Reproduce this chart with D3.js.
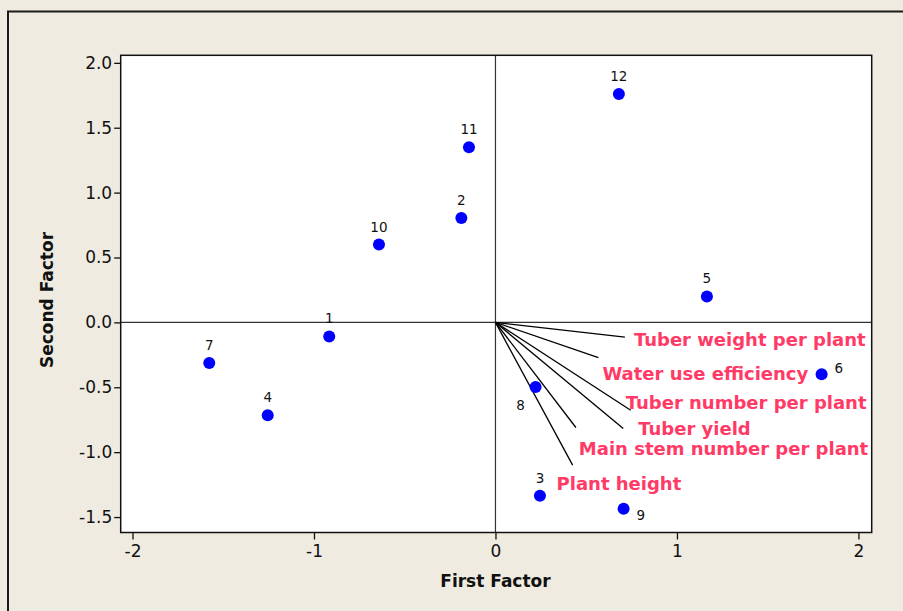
<!DOCTYPE html>
<html>
<head>
<meta charset="utf-8">
<script src="https://cdn.jsdelivr.net/npm/d3@7"></script>
<style>
  html, body { margin: 0; padding: 0; background: #EFEBE0; }
  svg { display: block; }
</style>
</head>
<body>
<svg id="chart" width="903" height="611"></svg>
<script>
// ---------- data ----------
const pointIds = ["1","2","3","4","5","6","7","8","9","10","11","12"];
const firstFactor  = [-0.916, -0.188, 0.245, -1.255, 1.165, 1.797, -1.577, 0.221, 0.706, -0.642, -0.146, 0.680];
const secondFactor = [-0.108,  0.805, -1.336, -0.715, 0.200, -0.400, -0.313, -0.498, -1.436, 0.600, 1.349, 1.760];

const variableNames = ["Tuber weight per plant", "Water use efficiency", "Tuber number per plant",
                       "Tuber yield", "Main stem number per plant", "Plant height"];
const loadingFirst  = [0.713, 0.567, 0.745, 0.704, 0.443, 0.425];
const loadingSecond = [-0.113, -0.272, -0.677, -0.818, -0.810, -1.100];

const xTickValues = [-2, -1, 0, 1, 2];
const xTickLabels = ["-2", "-1", "0", "1", "2"];
const yTickValues = [2.0, 1.5, 1.0, 0.5, 0.0, -0.5, -1.0, -1.5];
const yTickLabels = ["2.0", "1.5", "1.0", "0.5", "0.0", "-0.5", "-1.0", "-1.5"];

// ---------- layout (not data) ----------
const plot = { left: 120.7, right: 871.7, top: 55.3, bottom: 532.5 };
const xDomain = [-2.065, 2.073];
const yDomain = [-1.619, 2.058];
// label placement of point ids
const pointLabelPos = { "6": "right", "8": "belowleft", "9": "belowright" };
// offsets (px) of variable labels from the tip of each vector
const varLabelOffset = [[9, 9], [4, 22], [-5, -1], [15, 6], [3, 27], [-16, 25]];

const svg = d3.select("#chart");

// outer frame
svg.append("rect").attr("x", 8).attr("y", 11.5).attr("width", 1000).attr("height", 700)
  .attr("fill", "#EFEBE0").attr("stroke", "#1a1a1a").attr("stroke-width", 2);

const x = d3.scaleLinear().domain(xDomain).range([plot.left, plot.right]);
const y = d3.scaleLinear().domain(yDomain).range([plot.bottom, plot.top]);

// plot area
svg.append("rect")
  .attr("x", plot.left).attr("y", plot.top)
  .attr("width", plot.right - plot.left).attr("height", plot.bottom - plot.top)
  .attr("fill", "#ffffff");

// reference lines
svg.append("line").attr("x1", plot.left).attr("x2", plot.right)
  .attr("y1", y(0)).attr("y2", y(0)).attr("stroke", "#333").attr("stroke-width", 1.2);
svg.append("line").attr("x1", x(0)).attr("x2", x(0))
  .attr("y1", plot.top).attr("y2", plot.bottom).attr("stroke", "#333").attr("stroke-width", 1.2);

// axes
const tickFont = "'DejaVu Sans', sans-serif";
const xAxis = d3.axisBottom(x).tickValues(xTickValues)
  .tickFormat((d, i) => xTickLabels[i]).tickSize(7).tickPadding(5);
const yAxis = d3.axisLeft(y).tickValues(yTickValues)
  .tickFormat((d, i) => yTickLabels[i]).tickSize(6.5).tickPadding(2);

const gx = svg.append("g").attr("transform", `translate(0,${plot.bottom})`).call(xAxis);
const gy = svg.append("g").attr("transform", `translate(${plot.left},0)`).call(yAxis);
[gx, gy].forEach(g => {
  g.select(".domain").remove();
  g.selectAll(".tick line").attr("stroke", "#111").attr("stroke-width", 1.3);
  g.selectAll(".tick text").attr("fill", "#111")
    .style("font-family", tickFont).style("font-size", "17px");
});

// plot border
svg.append("rect")
  .attr("x", plot.left).attr("y", plot.top)
  .attr("width", plot.right - plot.left).attr("height", plot.bottom - plot.top)
  .attr("fill", "none").attr("stroke", "#111").attr("stroke-width", 1.5);

// axis titles
svg.append("text").attr("x", (x(0))).attr("y", 587)
  .attr("text-anchor", "middle").attr("fill", "#111")
  .style("font-family", tickFont).style("font-size", "17px").style("font-weight", "bold")
  .text("First Factor");
svg.append("text").attr("transform", `translate(53,${300}) rotate(-90)`)
  .attr("text-anchor", "middle").attr("fill", "#111")
  .style("font-family", tickFont).style("font-size", "17px").style("font-weight", "bold")
  .text("Second Factor");

// vectors
const vars = variableNames.map((n, i) => ({ name: n, a: loadingFirst[i], b: loadingSecond[i], off: varLabelOffset[i] }));
svg.append("g").selectAll("line").data(vars).join("line")
  .attr("x1", x(0)).attr("y1", y(0))
  .attr("x2", d => x(d.a)).attr("y2", d => y(d.b))
  .attr("stroke", "#000").attr("stroke-width", 1.3);

svg.append("g").selectAll("text").data(vars).join("text")
  .attr("x", d => x(d.a) + d.off[0]).attr("y", d => y(d.b) + d.off[1])
  .attr("fill", "#FF3A66")
  .style("font-family", tickFont).style("font-size", "18px").style("font-weight", "bold")
  .text(d => d.name);

// points
const pts = pointIds.map((id, i) => ({ id, a: firstFactor[i], b: secondFactor[i] }));
svg.append("g").selectAll("circle").data(pts).join("circle")
  .attr("cx", d => x(d.a)).attr("cy", d => y(d.b)).attr("r", 6)
  .attr("fill", "#0000FF");

svg.append("g").selectAll("text").data(pts).join("text")
  .attr("x", d => {
    const p = pointLabelPos[d.id];
    if (p === "right" || p === "belowright") return x(d.a) + 13;
    if (p === "belowleft") return x(d.a) - 15;
    return x(d.a);
  })
  .attr("y", d => {
    const p = pointLabelPos[d.id];
    if (p === "right") return y(d.b) - 1;
    if (p === "belowleft") return y(d.b) + 23;
    if (p === "belowright") return y(d.b) + 11;
    return y(d.b) - 13;
  })
  .attr("text-anchor", d => {
    const p = pointLabelPos[d.id];
    if (p === "right" || p === "belowright") return "start";
    return "middle";
  })
  .attr("fill", "#111")
  .style("font-family", tickFont).style("font-size", "13.5px")
  .text(d => d.id);
</script>
</body>
</html>
